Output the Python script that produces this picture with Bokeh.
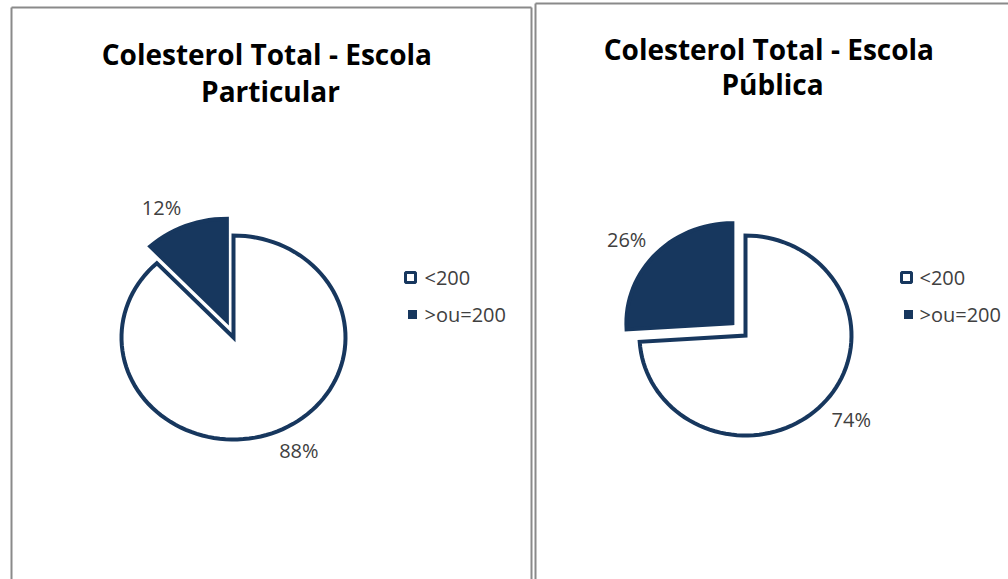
import math
from bokeh.plotting import figure
from bokeh.models import Range1d
from bokeh.core.properties import value
from bokeh.embed import file_html
from bokeh.resources import INLINE

# ---- data ----
categories = ["<200", ">ou=200"]
particular_values = [88, 12]
publica_values = [74, 26]
titles = ["Colesterol Total  - Escola\nParticular", "Colesterol Total  - Escola\nPública"]

# ---- styles ----
NAVY = "#17375E"
FILLS = ["white", NAVY]
BORDER = "#8a8a8a"
LABEL_COLOR = "#404040"
FONT = "Open Sans"

# panel layout (pixels; y grows downwards)
panels = [
    dict(values=particular_values, title=titles[0], left=11, right=531, top=7,
         cx=233, cy=337, rx=112, ry=102, title_x=270, title_y=[53, 90],
         leg_mx=410, leg_tx=424),
    dict(values=publica_values, title=titles[1], left=535, right=1012, top=3,
         cx=745, cy=335, rx=106, ry=100, title_x=772, title_y=[48, 83],
         leg_mx=906, leg_tx=919),
]
EXPLODE = 18
LEG_Y = [277, 314]

p = figure(width=1008, height=579, x_range=Range1d(0, 1008), y_range=Range1d(579, 0),
           output_backend="svg", toolbar_location=None, min_border=0)
p.axis.visible = False
p.grid.visible = False
p.outline_line_color = None
p.background_fill_color = "white"
p.border_fill_color = "white"

for pan in panels:
    # panel borders (left, top, right)
    p.segment(x0=[pan["left"], pan["left"], pan["right"]],
              y0=[579, pan["top"], pan["top"]],
              x1=[pan["left"], pan["right"], pan["right"]],
              y1=[pan["top"], pan["top"], 579],
              line_color=BORDER, line_width=2)

    vals = pan["values"]
    total = float(sum(vals))
    cum = 0.0
    xs, ys = [], []
    lx, ly, ltxt, lalign = [], [], [], []
    for i, v in enumerate(vals):
        a0 = 2 * math.pi * cum / total
        a1 = 2 * math.pi * (cum + v) / total
        cum += v
        mid = (a0 + a1) / 2
        e = EXPLODE if i == 1 else 0
        ox = pan["cx"] + e * math.sin(mid)
        oy = pan["cy"] - e * math.cos(mid)
        n = max(4, int(120 * (a1 - a0) / (2 * math.pi)))
        px = [ox]
        py = [oy]
        for k in range(n + 1):
            t = a0 + (a1 - a0) * k / n
            px.append(ox + pan["rx"] * math.sin(t))
            py.append(oy - pan["ry"] * math.cos(t))
        xs.append(px)
        ys.append(py)
        # label outside the arc at the bisector
        sx, cy_ = math.sin(mid), math.cos(mid)
        bx = ox + (pan["rx"] + 12) * sx
        by = oy - (pan["ry"] + 12) * cy_ - (7.5 if cy_ > 0 else -7.5)
        lx.append(bx)
        ly.append(by)
        ltxt.append(f"{round(100 * v / total)}%")
        lalign.append("right" if sx < 0 else "left")

    p.patches(xs=xs, ys=ys, fill_color=FILLS, line_color=NAVY, line_width=4,
              line_join="miter")
    for j in range(len(lx)):
        p.text(x=[lx[j]], y=[ly[j]], text=[ltxt[j]], text_align=lalign[j],
               text_baseline="middle", text_font=value(FONT),
               text_font_size="20px", text_color=LABEL_COLOR)

    # title
    lines = pan["title"].split("\n")
    p.text(x=[pan["title_x"]] * len(lines), y=pan["title_y"], text=lines,
           text_align="center", text_baseline="alphabetic", text_font=value(FONT),
           text_font_style="bold", text_font_size="28px", text_color="black")

    # legend
    p.scatter(x=[pan["leg_mx"]], y=[LEG_Y[0]], marker="square", size=10,
              fill_color="white", line_color=NAVY, line_width=3)
    p.scatter(x=[pan["leg_mx"] + 2], y=[LEG_Y[1]], marker="square", size=9,
              fill_color=NAVY, line_color=NAVY, line_width=0)
    p.text(x=[pan["leg_tx"]] * 2, y=LEG_Y, text=categories, text_align="left",
           text_baseline="middle", text_font=value(FONT), text_font_size="20px",
           text_color=LABEL_COLOR)

open("out.html", "w").write(file_html(p, INLINE))
